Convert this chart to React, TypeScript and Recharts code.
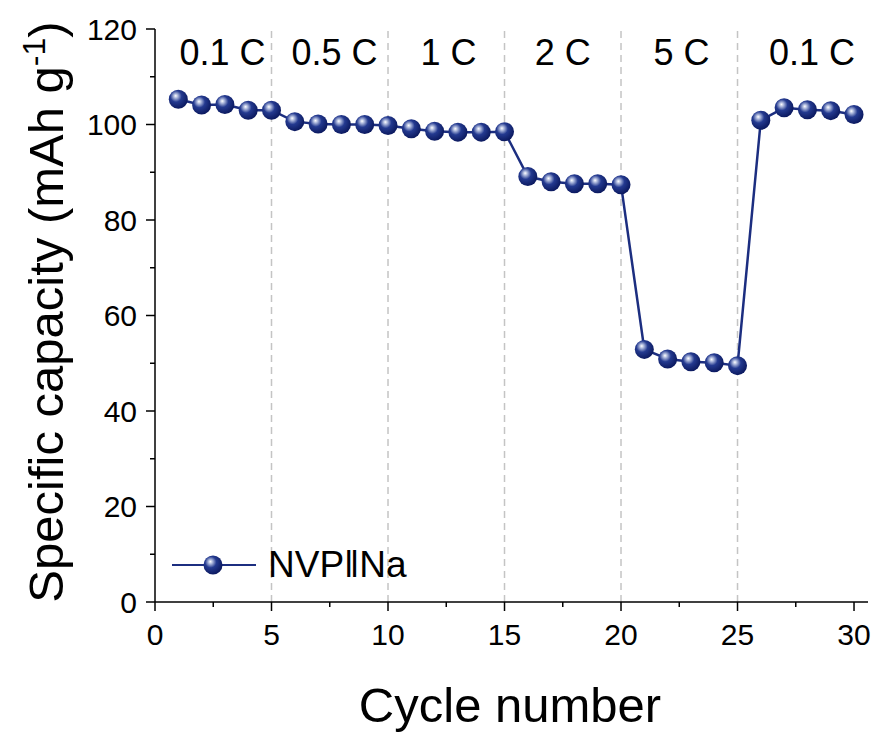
import {
  LineChart,
  Line,
  XAxis,
  YAxis,
  ReferenceLine,
  ReferenceDot,
} from "recharts";

// #region Data
const cycles = [
  1, 2, 3, 4, 5, 6, 7, 8, 9, 10, 11, 12, 13, 14, 15, 16, 17, 18, 19, 20, 21,
  22, 23, 24, 25, 26, 27, 28, 29, 30,
];
const capacity = [
  105.3, 104.1, 104.2, 103.0, 103.0, 100.6, 100.1, 100.0, 100.0, 99.8, 99.1,
  98.6, 98.4, 98.4, 98.5, 89.1, 88.0, 87.6, 87.6, 87.4, 52.9, 50.9, 50.3, 50.1,
  49.5, 100.9, 103.5, 103.1, 102.9, 102.1,
];
const rateLabels = ["0.1 C", "0.5 C", "1 C", "2 C", "5 C", "0.1 C"];
const rateLabelX = [2.9, 7.7, 12.6, 17.5, 22.6, 28.2];
const rateBoundaries = [5, 10, 15, 20, 25];
const xTicks = [0, 2.5, 5, 7.5, 10, 12.5, 15, 17.5, 20, 22.5, 25, 27.5, 30];
const yTicks = [0, 10, 20, 30, 40, 50, 60, 70, 80, 90, 100, 110, 120];
const seriesName = "NVP‖Na";
// #endregion

const data = cycles.map((c, i) => ({ cycle: c, cap: capacity[i] }));

const FONT = "'Liberation Sans', Arial, sans-serif";
const NAVY = "#1c2e80";
const BALL_R = 9.5;

const BallGradient = ({ id }: { id: string }) => (
  <radialGradient id={id} cx="0.4" cy="0.38" r="0.62" fx="0.36" fy="0.32">
    <stop offset="0" stopColor="#ffffff" />
    <stop offset="0.16" stopColor="#b4bfe0" />
    <stop offset="0.48" stopColor="#243a90" />
    <stop offset="1" stopColor="#0c1a60" />
  </radialGradient>
);

const Ball = ({ cx, cy }: { cx?: number; cy?: number }) => {
  if (cx == null || cy == null) return null;
  return <circle cx={cx} cy={cy} r={BALL_R} fill="url(#ball)" />;
};

const XTick = (props: any) => {
  const { x, y, payload } = props;
  const v = payload.value;
  const major = v % 5 === 0;
  return (
    <g>
      <line x1={x} x2={x} y1={y} y2={y + (major ? 9 : 5)} stroke="#000" strokeWidth={1.5} />
      {major && (
        <text x={x} y={y + 43} textAnchor="middle" fontSize={30} fontFamily={FONT} fill="#000">
          {v}
        </text>
      )}
    </g>
  );
};

const YTick = (props: any) => {
  const { x, y, payload } = props;
  const v = payload.value;
  const major = v % 20 === 0;
  return (
    <g>
      <line x1={x} x2={x - (major ? 9 : 5)} y1={y} y2={y} stroke="#000" strokeWidth={1.5} />
      {major && (
        <text x={x - 18} y={y} dy="0.36em" textAnchor="end" fontSize={30} fontFamily={FONT} fill="#000">
          {v}
        </text>
      )}
    </g>
  );
};

const LegendBox = () => (
  <div
    style={{
      position: "absolute",
      left: 168,
      top: 547,
      display: "flex",
      alignItems: "center",
      fontFamily: FONT,
      fontSize: 37,
      color: "#000",
      lineHeight: "36px",
    }}
  >
    <svg width={92} height={36}>
      <defs>
        <BallGradient id="ballLegend" />
      </defs>
      <line x1={4} x2={88} y1={18} y2={18} stroke={NAVY} strokeWidth={2} />
      <circle cx={45} cy={18} r={BALL_R} fill="url(#ballLegend)" />
    </svg>
    <span style={{ marginLeft: 8 }}>{seriesName}</span>
  </div>
);

const SpecificCapacityChart = () => {
  return (
    <div style={{ position: "absolute", left: 0, top: 0, width: 882, height: 735 }}>
      <LineChart
        width={882}
        height={735}
        data={data}
        margin={{ top: 29, right: 14, left: 0, bottom: 0 }}
      >
        <defs>
          <BallGradient id="ball" />
        </defs>
        <XAxis
          dataKey="cycle"
          type="number"
          domain={[0, 30.6]}
          ticks={xTicks}
          interval={0}
          height={133}
          tickSize={0}
          tickMargin={0}
          tickLine={false}
          axisLine={{ stroke: "#000", strokeWidth: 1.5 }}
          tick={<XTick />}
          label={() => (
            <text x={510} y={722} textAnchor="middle" fontSize={49} fontFamily={FONT} fill="#000">
              Cycle number
            </text>
          )}
        />
        <XAxis
          xAxisId="top"
          orientation="top"
          type="number"
          domain={[0, 30.6]}
          height={0}
          tick={false}
          tickLine={false}
          axisLine={{ stroke: "#000", strokeWidth: 1.5 }}
        />
        <YAxis
          type="number"
          domain={[0, 120]}
          ticks={yTicks}
          interval={0}
          width={155}
          tickSize={0}
          tickMargin={0}
          tickLine={false}
          axisLine={{ stroke: "#000", strokeWidth: 1.5 }}
          tick={<YTick />}
          label={() => (
            <text
              x={63}
              y={312}
              transform="rotate(-90, 63, 312)"
              textAnchor="middle"
              fontSize={49}
              fontFamily={FONT}
              fill="#000"
            >
              Specific capacity (mAh g
              <tspan dy={-18} fontSize={32}>-1</tspan>
              <tspan dy={18}>)</tspan>
            </text>
          )}
        />
        <YAxis
          yAxisId="right"
          orientation="right"
          type="number"
          domain={[0, 120]}
          width={0}
          tick={false}
          tickLine={false}
          axisLine={{ stroke: "#000", strokeWidth: 1.5 }}
        />
        {rateBoundaries.map((b) => (
          <ReferenceLine
            key={b}
            x={b}
            stroke="#c4c4c4"
            strokeWidth={1.5}
            strokeDasharray="7 5"
          />
        ))}
        {rateLabels.map((t, i) => (
          <ReferenceDot
            key={i}
            x={rateLabelX[i]}
            y={115.2}
            r={0}
            fill="none"
            stroke="none"
            label={{ value: t, position: "center", fontSize: 36, fill: "#000", fontFamily: FONT }}
          />
        ))}
        <Line
          dataKey="cap"
          stroke={NAVY}
          strokeWidth={2.5}
          dot={<Ball />}
          activeDot={false}
          isAnimationActive={false}
        />
      </LineChart>
      <LegendBox />
    </div>
  );
};

export default SpecificCapacityChart;
